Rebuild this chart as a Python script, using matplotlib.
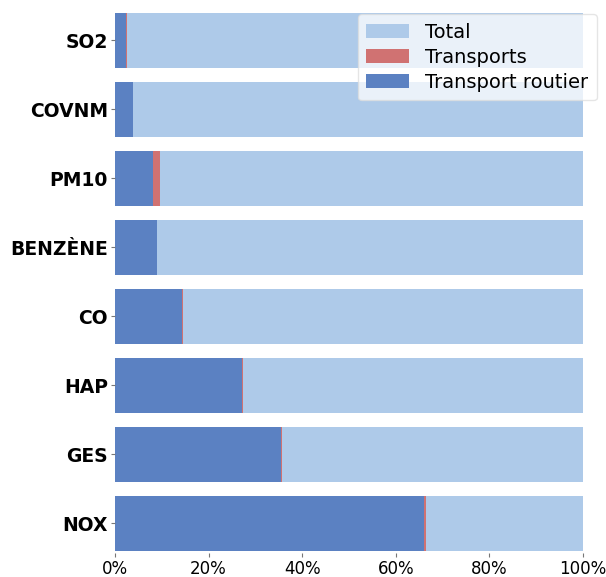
import matplotlib.pyplot as plt
import numpy as np

# polluants et parts (en %)
polluants = ["SO2", "COVNM", "PM10", "BENZÈNE", "CO", "HAP", "GES", "NOX"]
total = [100, 100, 100, 100, 100, 100, 100, 100]
transports = [2.6, 3.9, 9.6, 9.0, 14.5, 27.3, 35.7, 66.4]
routier = [2.3, 3.8, 8.2, 8.9, 14.3, 27.2, 35.5, 66.0]

col_total = "#aecae9"
col_transports = "#d07272"
col_routier = "#5b81c2"

fig = plt.figure(figsize=(6.06, 5.77), dpi=100)
ax = fig.add_axes([115 / 606, 24 / 577, 468 / 606, 543 / 577])

y = np.arange(len(polluants))
ax.barh(y, total, height=0.8, color=col_total, label="Total")
ax.barh(y, transports, height=0.8, color=col_transports, label="Transports")
ax.barh(y, routier, height=0.8, color=col_routier, label="Transport routier")

ax.set_xlim(0, 100)
ax.set_ylim(len(polluants) - 1 + 0.43, -0.44)
ax.set_yticks(y)
ax.set_yticklabels(polluants, fontsize=13.5, fontweight="bold")
ax.set_xticks([0, 20, 40, 60, 80, 100])
ax.set_xticklabels(["0%", "20%", "40%", "60%", "80%", "100%"], fontsize=12)
ax.tick_params(axis="both", length=3, color="#777777", width=0.8)
ax.tick_params(axis="y", pad=2)
ax.tick_params(axis="x", pad=2)

for s in ax.spines.values():
    s.set_visible(False)

leg = ax.legend(loc="upper right", bbox_to_anchor=(1.05, 1.01), fontsize=14,
                frameon=True, fancybox=True, framealpha=0.75, edgecolor="#dddddd",
                handlelength=2.2, borderpad=0.45, labelspacing=0.3)

fig.savefig("out.png", dpi=100)
